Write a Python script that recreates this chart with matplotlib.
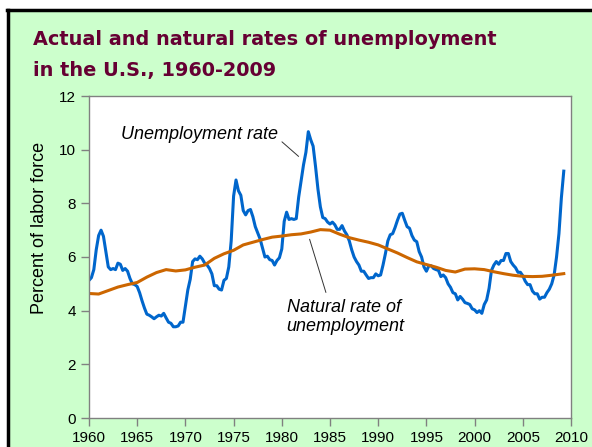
import matplotlib.pyplot as plt
import numpy as np
from matplotlib.patches import Rectangle

# quarterly unemployment rate, 1960Q1 - 2009Q2
u_rate = [
    5.13, 5.23, 5.53, 6.27,
    6.80, 7.00, 6.77, 6.20,
    5.63, 5.53, 5.57, 5.53,
    5.77, 5.73, 5.50, 5.57,
    5.47, 5.20, 5.00, 4.97,
    4.90, 4.67, 4.37, 4.10,
    3.87, 3.83, 3.77, 3.70,
    3.77, 3.83, 3.80, 3.90,
    3.73, 3.57, 3.53, 3.40,
    3.40, 3.43, 3.57, 3.57,
    4.17, 4.77, 5.17, 5.83,
    5.93, 5.90, 6.03, 5.93,
    5.77, 5.70, 5.57, 5.37,
    4.93, 4.93, 4.80, 4.77,
    5.13, 5.20, 5.63, 6.60,
    8.27, 8.87, 8.47, 8.30,
    7.73, 7.57, 7.73, 7.77,
    7.50, 7.13, 6.90, 6.67,
    6.33, 6.00, 6.03, 5.90,
    5.87, 5.70, 5.87, 5.97,
    6.30, 7.33, 7.67, 7.40,
    7.43, 7.40, 7.43, 8.23,
    8.83, 9.43, 9.90, 10.67,
    10.37, 10.13, 9.37, 8.53,
    7.87, 7.47, 7.43, 7.30,
    7.23, 7.30, 7.20, 7.03,
    7.03, 7.17, 6.97, 6.83,
    6.60, 6.27, 6.00, 5.83,
    5.70, 5.47, 5.47, 5.33,
    5.20, 5.23, 5.23, 5.37,
    5.30, 5.33, 5.70, 6.13,
    6.60, 6.83, 6.87, 7.10,
    7.37, 7.60, 7.63, 7.37,
    7.13, 7.07, 6.80, 6.63,
    6.57, 6.20, 6.00, 5.63,
    5.47, 5.67, 5.67, 5.57,
    5.53, 5.50, 5.27, 5.33,
    5.23, 5.00, 4.87, 4.67,
    4.63, 4.40, 4.53, 4.43,
    4.30, 4.27, 4.23, 4.07,
    4.03, 3.93, 4.00, 3.90,
    4.23, 4.40, 4.83, 5.50,
    5.70, 5.83, 5.73, 5.87,
    5.87, 6.13, 6.13, 5.83,
    5.70, 5.60, 5.43, 5.43,
    5.30, 5.10, 4.97, 4.97,
    4.73, 4.63, 4.63, 4.43,
    4.50, 4.50, 4.67, 4.80,
    5.00, 5.33, 6.00, 6.87,
    8.20, 9.20,
]
u_dates = 1960 + np.arange(len(u_rate)) / 4

# natural rate (annual)
n_years = list(range(1960, 2010))
n_rate = [
    4.64, 4.62, 4.75, 4.88, 4.97, 5.05, 5.25, 5.42, 5.53, 5.48,
    5.52, 5.62, 5.70, 5.95, 6.12, 6.25, 6.45, 6.55, 6.65, 6.74,
    6.78, 6.83, 6.86, 6.93, 7.02, 7.00, 6.85, 6.72, 6.63, 6.55,
    6.45, 6.30, 6.15, 5.98, 5.82, 5.72, 5.62, 5.50, 5.44, 5.55,
    5.56, 5.53, 5.45, 5.38, 5.32, 5.28, 5.27, 5.28, 5.32, 5.38,
]
n_dates = np.array(n_years, dtype=float)
n_dates[-1] = 2009.25

W, H = 592, 447
fig = plt.figure(figsize=(W / 100, H / 100), dpi=100)
fig.patch.set_facecolor("white")

# green panel with black frame on top/left
fig.patches.append(Rectangle((7 / W, 0), 1, 1 - 10 / H, transform=fig.transFigure,
                             facecolor="#CCFFCC", edgecolor="none", zorder=-10))
fig.lines.append(plt.Line2D([7.5 / W, 7.5 / W], [0, 1 - 9.5 / H], transform=fig.transFigure,
                            color="black", lw=2.5, zorder=-5))
fig.lines.append(plt.Line2D([6.5 / W, 1], [1 - 9.5 / H, 1 - 9.5 / H], transform=fig.transFigure,
                            color="black", lw=2.5, zorder=-5))

for line, ypx in [("Actual and natural rates of unemployment", 45),
                  ("in the U.S., 1960-2009", 76)]:
    fig.text(33 / W, 1 - ypx / H, line, fontsize=13.9, fontweight="bold", color="#660033",
             family="DejaVu Sans", va="baseline", ha="left")

ax = fig.add_axes([89 / W, 1 - 418 / H, (571 - 89) / W, (418 - 96) / H])
ax.set_facecolor("white")
ax.plot(u_dates, u_rate, color="#0066CC", lw=2.2, solid_joinstyle="round")
ax.plot(n_dates, n_rate, color="#CC6600", lw=2.2, solid_joinstyle="round")

ax.set_xlim(1960, 2010)
ax.set_ylim(0, 12)
ax.set_xticks(range(1960, 2011, 5))
ax.set_yticks(range(0, 13, 2))
for s in ax.spines.values():
    s.set_color("#808080")
    s.set_linewidth(1)
ax.tick_params(colors="#808080", labelcolor="black", labelsize=11, length=6, width=1)
for lab in ax.get_xticklabels() + ax.get_yticklabels():
    lab.set_family("Liberation Sans")

ax.text(1963.3, 10.55, "Unemployment rate", fontsize=13, style="italic",
        family="Liberation Sans", va="center", ha="left")
ax.annotate("", xy=(1981.96, 9.68), xytext=(1979.8, 10.36),
            arrowprops=dict(arrowstyle="-", color="#333333", lw=0.7))
ax.text(1980.5, 3.76, "Natural rate of\nunemployment", fontsize=13, style="italic",
        family="Liberation Sans", va="center", ha="left", linespacing=1.2)
ax.annotate("", xy=(1982.8, 6.76), xytext=(1984.66, 4.58),
            arrowprops=dict(arrowstyle="-", color="#333333", lw=0.7))

fig.text(40 / W, 1 - 228 / H, "Percent of labor force", rotation=90, fontsize=13,
         family="Liberation Sans", va="center", ha="center")

fig.savefig("out.png", dpi=100, facecolor=fig.get_facecolor())
